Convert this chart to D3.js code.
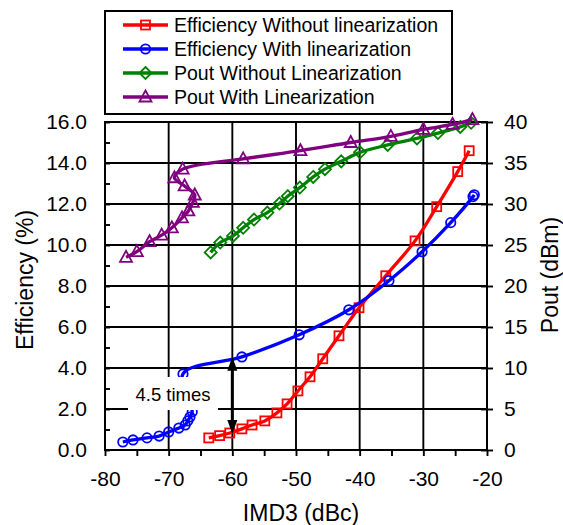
<!DOCTYPE html>
<html>
<head>
<meta charset="utf-8">
<script src="https://cdn.jsdelivr.net/npm/d3@7/dist/d3.min.js"></script>
<style>
  html, body { margin: 0; padding: 0; background: #fff; }
  svg { display: block; font-family: "Liberation Sans", Arial, sans-serif; }
</style>
</head>
<body>
<svg id="chart" width="563" height="525"></svg>
<script>
// ---------------- data ----------------
const xTicks = [-80, -70, -60, -50, -40, -30, -20];
const effTicks = [0, 2, 4, 6, 8, 10, 12, 14, 16];
const poutTicks = [0, 5, 10, 15, 20, 25, 30, 35, 40];

const seriesNames = [
  "Efficiency Without linearization",
  "Efficiency With linearization",
  "Pout Without Linearization",
  "Pout With Linearization"
];

const imd3EffWithout = [-63.7, -62.0, -60.4, -58.5, -56.9, -54.9, -53.0, -51.4, -49.7, -47.8, -45.8, -43.25, -40.1, -35.9, -31.3, -27.9, -24.6, -22.8];
const effWithout     = [0.59, 0.70, 0.83, 1.03, 1.22, 1.42, 1.81, 2.25, 2.88, 3.57, 4.45, 5.57, 6.94, 8.5, 10.2, 11.87, 13.58, 14.6];

const imd3EffWith = [-77.2, -75.6, -73.4, -71.5, -70.0, -68.4, -67.4, -67.0, -66.65, -66.3, -67.75, -58.5, -49.5, -41.7, -35.4, -30.2, -25.7, -22.2, -22.0];
const effWith     = [0.39, 0.49, 0.59, 0.68, 0.88, 1.07, 1.22, 1.42, 1.61, 1.86, 3.71, 4.54, 5.62, 6.84, 8.26, 9.67, 11.09, 12.36, 12.45];

const imd3PoutWithout = [-63.4, -61.9, -59.9, -58.3, -56.6, -54.5, -52.6, -51.3, -49.4, -47.3, -45.45, -42.9, -39.95, -35.6, -31.0, -27.7, -24.2, -22.5];
const poutWithout     = [24.1, 25.3, 26.1, 27.1, 28.1, 28.95, 30.05, 30.95, 32.0, 33.3, 34.25, 35.2, 36.3, 37.2, 38.0, 38.65, 39.4, 39.9];

const imd3PoutWith = [-76.7, -75.0, -73.0, -71.1, -69.5, -67.9, -66.9, -66.2, -65.9, -67.5, -69.1, -67.8, -58.3, -49.3, -41.4, -35.1, -30.0, -25.4, -22.3];
const poutWith     = [23.5, 24.2, 25.4, 26.2, 27.1, 28.3, 29.15, 30.2, 31.1, 32.2, 33.2, 34.25, 35.5, 36.5, 37.5, 38.25, 39.1, 39.7, 40.3];

// annotation: efficiency at IMD3 = -60 for both curves
const annotationX = -60;
const annotationEff = [4.55, 0.78];
const annotationText = "4.5 times";

// ---------------- layout ----------------
const svg = d3.select("#chart");
const L = 105, R = 487, T = 122, B = 450;

const x = d3.scaleLinear().domain([-80, -20]).range([L, R]);
const yEff = d3.scaleLinear().domain([0, 16]).range([B, T]);
const yPout = d3.scaleLinear().domain([0, 40]).range([B, T]);

const FONT_TICK = 21;

// gridlines
const grid = svg.append("g").attr("stroke", "#000").attr("stroke-width", 1.9);
grid.selectAll("line.h").data(effTicks).join("line")
  .attr("x1", L).attr("x2", R)
  .attr("y1", d => yEff(d)).attr("y2", d => yEff(d));
grid.selectAll("line.v").data(xTicks).join("line")
  .attr("y1", T).attr("y2", B)
  .attr("x1", d => x(d)).attr("x2", d => x(d));

// bottom axis
const xAxis = d3.axisBottom(x).tickValues(d3.range(-80, -19, 5)).tickSize(6)
  .tickFormat(d => xTicks.includes(d) ? d : "");
const gx = svg.append("g").attr("transform", `translate(0,${B})`).call(xAxis);
gx.select(".domain").attr("stroke-width", 2).attr("d", `M${L},0H${R}`);
gx.selectAll(".tick line").attr("stroke-width", 1.9);
gx.selectAll(".tick text").attr("font-size", FONT_TICK).attr("fill", "#000")
  .attr("font-family", "Liberation Sans, Arial, sans-serif").attr("dy", "1.3em");

// left axis
const yAxisL = d3.axisLeft(yEff).tickValues(d3.range(0, 16.1, 1)).tickSize(-5)
  .tickFormat(d => effTicks.includes(d) ? d3.format(".1f")(d) : "");
const gyl = svg.append("g").attr("transform", `translate(${L},0)`).call(yAxisL);
gyl.select(".domain").attr("stroke-width", 2).attr("d", `M0,${T}V${B}`);
gyl.selectAll(".tick line").attr("stroke-width", 1.9);
gyl.selectAll(".tick text").attr("font-size", FONT_TICK).attr("fill", "#000")
  .attr("font-family", "Liberation Sans, Arial, sans-serif").attr("x", -18);

// right axis
const yAxisR = d3.axisRight(yPout).tickValues(poutTicks).tickSize(6);
const gyr = svg.append("g").attr("transform", `translate(${R},0)`).call(yAxisR);
gyr.select(".domain").attr("stroke-width", 2).attr("d", `M0,${T}V${B}`);
gyr.selectAll(".tick line").attr("stroke-width", 1.9).attr("x1", -6);
gyr.selectAll(".tick text").attr("font-size", FONT_TICK).attr("fill", "#000")
  .attr("font-family", "Liberation Sans, Arial, sans-serif").attr("x", 17);

// plot frame
svg.append("rect").attr("x", L).attr("y", T).attr("width", R - L).attr("height", B - T)
  .attr("fill", "none").attr("stroke", "#000").attr("stroke-width", 2);

// axis titles
svg.append("text").attr("x", (L + R) / 2 + 5).attr("y", 521).attr("text-anchor", "middle")
  .attr("font-size", 23).text("IMD3 (dBc)");
svg.append("text").attr("transform", `translate(33,${(T + B) / 2 - 6}) rotate(-90)`)
  .attr("text-anchor", "middle").attr("font-size", 23).text("Efficiency (%)");
svg.append("text").attr("transform", `translate(558,${(T + B) / 2 - 11}) rotate(-90)`)
  .attr("text-anchor", "middle").attr("font-size", 23).text("Pout (dBm)");

// ---------------- series ----------------
const markers = {
  square: (g, c) => g.append("rect").attr("x", -4.5).attr("y", -4.5).attr("width", 9).attr("height", 9)
    .attr("fill", "none").attr("stroke", c).attr("stroke-width", 1.8),
  circle: (g, c) => g.append("circle").attr("r", 4.7)
    .attr("fill", "none").attr("stroke", c).attr("stroke-width", 1.8),
  diamond: (g, c) => g.append("path").attr("d", "M0,-6L6,0L0,6L-6,0Z")
    .attr("fill", "none").attr("stroke", c).attr("stroke-width", 1.8),
  triangle: (g, c) => g.append("path").attr("d", "M0,-6.5L6,4.5L-6,4.5Z")
    .attr("fill", "none").attr("stroke", c).attr("stroke-width", 1.8)
};

const series = [
  { name: seriesNames[0], xs: imd3EffWithout, ys: effWithout, scale: yEff, color: "#FF0000", marker: "square" },
  { name: seriesNames[1], xs: imd3EffWith, ys: effWith, scale: yEff, color: "#0000FF", marker: "circle" },
  { name: seriesNames[2], xs: imd3PoutWithout, ys: poutWithout, scale: yPout, color: "#008000", marker: "diamond" },
  { name: seriesNames[3], xs: imd3PoutWith, ys: poutWith, scale: yPout, color: "#800080", marker: "triangle" }
];

series.forEach(s => {
  const pts = s.xs.map((v, i) => [v, s.ys[i]]);
  const line = d3.line().x(d => x(d[0])).y(d => s.scale(d[1])).curve(d3.curveCatmullRom.alpha(0.5));
  const g = svg.append("g");
  g.append("path").datum(pts).attr("d", line).attr("fill", "none")
    .attr("stroke", s.color).attr("stroke-width", 3.3).attr("stroke-linejoin", "round");
  pts.forEach(p => {
    const mg = g.append("g").attr("transform", `translate(${x(p[0])},${s.scale(p[1])})`);
    markers[s.marker](mg, s.color);
  });
});

// ---------------- annotation ----------------
const ax = x(annotationX);
const ay1 = yEff(annotationEff[0]), ay2 = yEff(annotationEff[1]);
svg.append("line").attr("x1", ax).attr("x2", ax).attr("y1", ay1 + 10).attr("y2", ay2 - 10)
  .attr("stroke", "#000").attr("stroke-width", 3);
svg.append("path").attr("d", `M${ax},${ay1}L${ax + 5},${ay1 + 14}L${ax - 5},${ay1 + 14}Z`).attr("fill", "#000");
svg.append("path").attr("d", `M${ax},${ay2}L${ax + 5},${ay2 - 14}L${ax - 5},${ay2 - 14}Z`).attr("fill", "#000");

svg.append("rect").attr("x", 128).attr("y", 377).attr("width", 90).attr("height", 33).attr("fill", "#fff");
svg.append("text").attr("x", 173).attr("y", 401).attr("text-anchor", "middle")
  .attr("font-size", 18.5).text(annotationText);

// ---------------- legend ----------------
const lg = svg.append("g");
lg.append("rect").attr("x", 105).attr("y", 11).attr("width", 347).attr("height", 103)
  .attr("fill", "#fff").attr("stroke", "#000").attr("stroke-width", 2);
series.forEach((s, i) => {
  const yy = 25 + i * 24;
  lg.append("line").attr("x1", 123).attr("x2", 168).attr("y1", yy).attr("y2", yy)
    .attr("stroke", s.color).attr("stroke-width", 3.3);
  const mg = lg.append("g").attr("transform", `translate(145.5,${yy})`);
  markers[s.marker](mg, s.color);
  lg.append("text").attr("x", 174).attr("y", yy + 7).attr("font-size", 19.5).text(s.name);
});
</script>
</body>
</html>
